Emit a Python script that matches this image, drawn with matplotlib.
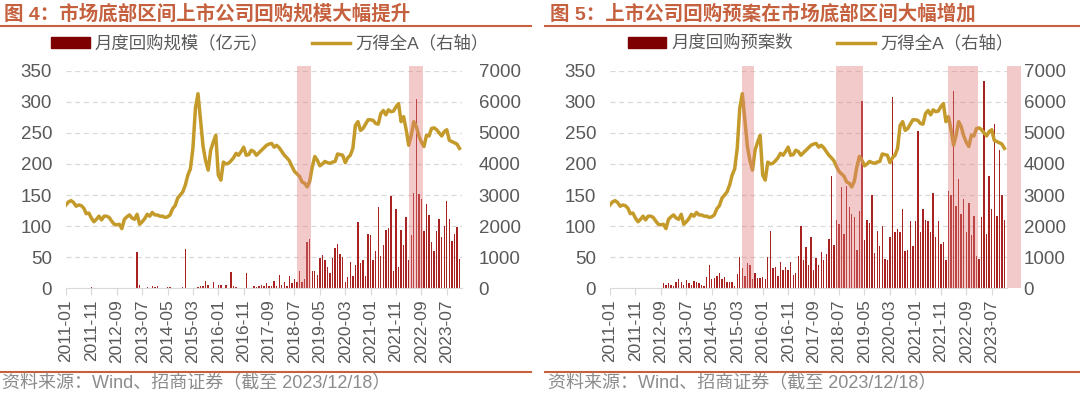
import matplotlib
matplotlib.use("Agg")
import matplotlib.pyplot as plt
from matplotlib.lines import Line2D
from matplotlib.patches import Patch
import pandas as pd

plt.rcParams["font.family"] = ["Liberation Sans", "Noto Sans CJK SC", "DejaVu Sans"]

MONTHS = pd.period_range("2011-01", "2023-12", freq="M")
TICK_EVERY = 10

# 万得全A 月度点位
WIND_A = [v * 20 for v in [
    134, 139, 141, 138, 132, 134, 133, 129, 120, 121, 113, 107, 111, 116, 110, 116,
    116, 114, 108, 103, 102, 103, 96, 111, 115, 118, 113, 111, 119, 103, 107, 112,
    119, 116, 122, 118, 118, 116, 116, 114, 115, 118, 128, 133, 145, 150, 155, 166,
    182, 192, 225, 290, 313, 270, 228, 205, 190, 222, 235, 246, 182, 174, 203, 200,
    201, 205, 210, 217, 214, 220, 227, 214, 215, 222, 220, 214, 218, 222, 226, 230,
    232, 233, 227, 230, 226, 220, 214, 210, 205, 196, 188, 184, 180, 171, 169, 163,
    172, 195, 212, 206, 197, 200, 204, 202, 201, 203, 204, 216, 215, 214, 202, 210,
    214, 225, 262, 268, 254, 257, 264, 271, 271, 270, 265, 264, 281, 286, 279, 287,
    284, 285, 292, 297, 268, 276, 255, 230, 246, 268, 260, 245, 235, 228, 246, 245,
    257, 258, 255, 250, 245, 252, 255, 238, 236, 234, 232, 225]]

# 图4：月度回购规模（亿元）
BUYBACK_AMT = [0] * 10 + [1.5] + [0] * 13 + [0.5, 0, 0, 0, 58, 5, 0, 0,
    2, 1, 3, 2, 3, 0, 0, 0, 2, 2, 1, 0, 0, 0, 2, 63,
    0, 0, 0, 0, 2, 3, 4, 12, 5, 1, 10, 1, 5, 5, 1, 5,
    1, 27, 3, 2, 0, 0, 1, 25, 0, 0, 3, 2, 3, 5, 3, 8,
    4, 3, 12, 4, 22, 5, 10, 3, 20, 8, 15, 10, 28, 10, 15, 75,
    80, 28, 28, 22, 48, 53, 45, 35, 25, 48, 65, 72, 55, 50, 10, 18,
    42, 20, 38, 107, 40, 45, 20, 87, 85, 45, 60, 131, 52, 70, 93, 97,
    148, 28, 128, 35, 93, 70, 115, 45, 85, 153, 305, 152, 143, 92, 136, 118,
    75, 60, 92, 112, 82, 100, 140, 112, 76, 87, 98, 47]

# 图5：月度回购预案数
BUYBACK_CNT = [0] * 21 + [8, 5, 9, 6, 3, 10, 15, 10, 6, 13, 8,
    5, 12, 10, 8, 5, 3, 18, 38, 15, 16, 20, 25, 15, 18, 10, 10,
    10, 3, 23, 50, 32, 20, 40, 38, 15, 25, 17, 17, 18, 15, 50, 92,
    33, 35, 20, 43, 30, 35, 30, 43, 22, 25, 52, 100, 45, 67, 38, 82,
    30, 48, 38, 58, 45, 55, 80, 180, 70, 110, 103, 163, 88, 165, 130, 120,
    115, 62, 125, 302, 78, 110, 105, 150, 57, 92, 68, 100, 47, 45, 82, 307,
    90, 95, 90, 128, 60, 62, 108, 68, 108, 253, 90, 128, 110, 108, 90, 153,
    83, 108, 72, 75, 45, 157, 150, 318, 133, 175, 120, 143, 90, 137, 85, 117,
    52, 47, 115, 333, 87, 180, 127, 265, 116, 222, 150, 110]

BOTTOMS_4 = [("2018-08", "2019-01"), ("2022-04", "2022-09")]
BOTTOMS_5 = [("2015-05", "2015-09"), ("2018-06", "2019-04"),
             ("2022-02", "2023-01"), ("2024-01", "2024-06")]

assert len(WIND_A) == len(MONTHS) == len(BUYBACK_AMT) == len(BUYBACK_CNT)

BAR_RED, GOLD, SHADE = "#A82222", "#C49A2A", "#E07C7C"
ACCENT, TXT, GRID = "#C5613E", "#595959", "#D9D9D9"


def month_pos(label):
    return (pd.Period(label, freq="M") - MONTHS[0]).n


def panel(rect, bars, spans):
    ax = fig.add_axes(rect)
    x = range(len(MONTHS))
    ax.bar(x, bars, width=0.55, color=BAR_RED, linewidth=0, zorder=2)
    ax.set_ylim(0, 350)
    ax.set_yticks(range(0, 351, 50))
    ax.set_xlim(0, len(MONTHS))
    ticks = list(range(0, len(MONTHS), TICK_EVERY))
    ax.set_xticks(ticks)
    ax.set_xticklabels([str(MONTHS[i]) for i in ticks], rotation=90, fontsize=12.5, color=TXT)
    ax.tick_params(axis="x", length=5, color=GRID, pad=3)
    ax.tick_params(axis="y", length=0, labelsize=13.5, labelcolor=TXT, pad=10)
    for y in range(50, 351, 50):
        ax.axhline(y, color=GRID, ls=(0, (4, 3)), lw=0.9, zorder=0)
    for s in ("top", "left", "right"):
        ax.spines[s].set_visible(False)
    ax.spines["bottom"].set_color(GRID)

    ax2 = ax.twinx()
    ax2.plot(x, WIND_A, color=GOLD, lw=2.5, zorder=2)
    ax2.set_ylim(0, 7000)
    ax2.set_yticks(range(0, 7001, 1000))
    ax2.tick_params(axis="y", length=0, labelsize=13.5, labelcolor=TXT, pad=12)
    for s in ("top", "left", "right", "bottom"):
        ax2.spines[s].set_visible(False)
    for a, b in spans:
        ax2.axvspan(month_pos(a), month_pos(b) + 0.5, ymin=0, ymax=1.02,
                    color=SHADE, alpha=0.4, lw=0, zorder=3, clip_on=False)
    return ax


fig = plt.figure(figsize=(10.8, 3.95), dpi=100)

panel([0.0611, 0.2701, 0.3667, 0.551], BUYBACK_AMT, BOTTOMS_4)
panel([0.5648, 0.2701, 0.3676, 0.551], BUYBACK_CNT, BOTTOMS_5)

titles = ["图 4：市场底部区间上市公司回购规模大幅提升", "图 5：上市公司回购预案在市场底部区间大幅增加"]
bar_names = ["月度回购规模（亿元）", "月度回购预案数"]
for i, (x0, x1) in enumerate([(0.0, 0.492), (0.505, 1.0)]):
    fig.text(x0 + 0.004, 0.965, titles[i], fontsize=14, fontweight="bold", color=ACCENT,
             va="center", ha="left")
    fig.add_artist(Line2D([x0, x1], [0.935, 0.935], color=ACCENT, lw=1.5))
    fig.add_artist(Line2D([x0, x1], [0.058, 0.058], color=ACCENT, lw=1.5))
    fig.text(x0 + 0.002, 0.028, "资料来源：Wind、招商证券（截至 2023/12/18）",
             fontsize=13, color="#8C8C8C", va="center", ha="left")
    handles = [Patch(color="#7F0000"), Line2D([], [], color=GOLD, lw=2.5)]
    fig.legend(handles, [bar_names[i], "万得全A（右轴）"], loc="center",
               bbox_to_anchor=(0.25 + i * 0.51, 0.891), ncol=2, frameon=False,
               fontsize=12.5, handlelength=2.2, handleheight=0.6, columnspacing=2.5,
               handletextpad=0.3, labelcolor=TXT)

fig.savefig("out.png", dpi=100)
